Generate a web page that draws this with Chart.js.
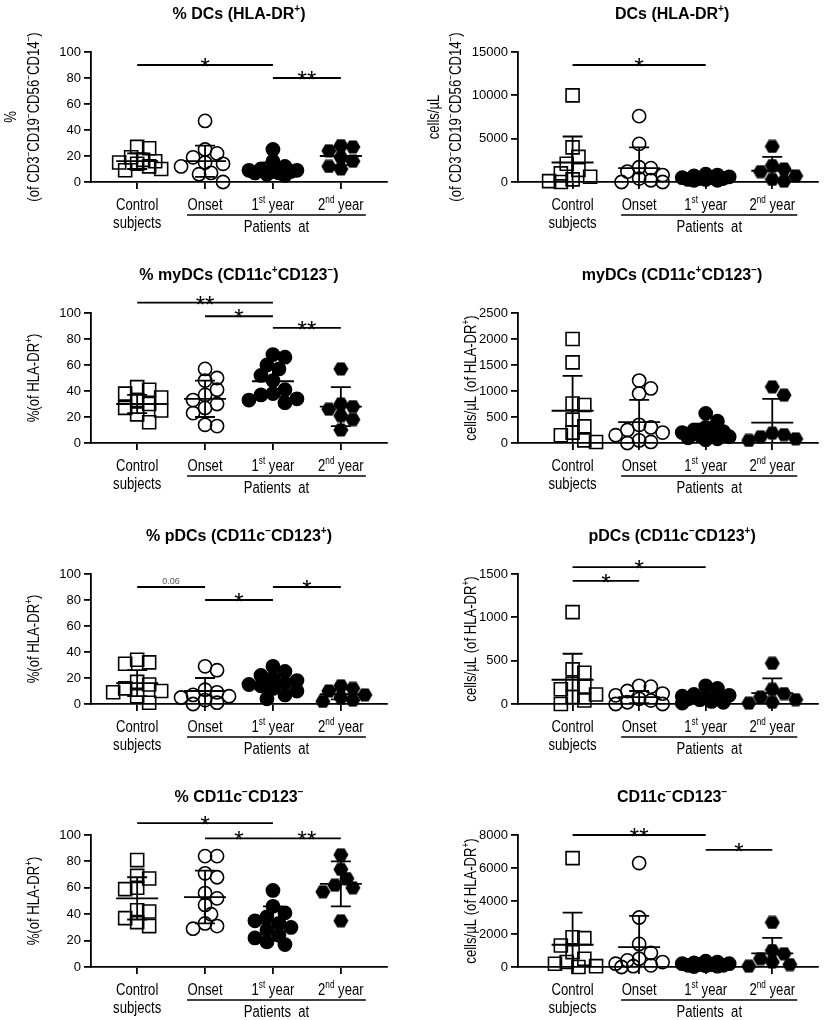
<!DOCTYPE html>
<html lang="en">
<head>
<meta charset="UTF-8">
<title>Dendritic cell subsets</title>
<script src="https://cdn.jsdelivr.net/npm/chart.js@4"></script>
<style>
  body { margin: 0; background: #fff; }
  #wrap { position: relative; width: 829px; height: 1020px; }
  #wrap canvas { position: absolute; }
</style>
</head>
<body>
<div id="wrap"></div>
<script>
// group labels (x axis), ^{..} = superscript, | = line break
const groupLabels = ['Control|subjects', 'Onset', '1^{st} year', '2^{nd} year'];

// % DCs (HLA-DR+)
const dcPctValues = [
  [27, 26, 19, 17, 16, 15, 14, 12, 10, 9],
  [47, 25, 22, 19, 15, 14, 12, 7, 6, 0],
  [25, 16, 12, 10, 9, 9, 8, 8, 7, 7, 6, 5],
  [28, 27, 24, 19, 16, 12, 10]
];
const dcPctMean = [16, 16, 10, 20];
const dcPctSD = [6, 12, 5, 7];
const dcPctSig = [[1, 3, 90, '*'], [3, 4, 80, '**']];

// DCs cells/uL
const dcAbsValues = [
  [10000, 4000, 2900, 2100, 1400, 1000, 600, 300, 100, 0],
  [7600, 4400, 1700, 1600, 1200, 800, 400, 200, 0, 0],
  [900, 800, 700, 600, 500, 500, 400, 400, 300, 300, 200, 200],
  [4100, 1900, 1500, 1200, 700, 300, 100]
];
const dcAbsMean = [2250, 1600, 500, 1300];
const dcAbsSD = [3000, 2400, 250, 1600];
const dcAbsSig = [[1, 3, 13500, '*']];

// % myDCs
const myPctValues = [
  [43, 41, 38, 35, 33, 30, 27, 25, 22, 16],
  [57, 50, 48, 41, 37, 33, 30, 27, 23, 14, 13],
  [68, 66, 60, 57, 52, 48, 41, 38, 37, 34, 33, 31],
  [57, 30, 28, 26, 21, 18, 10]
];
const myPctMean = [30, 34, 47.5, 28];
const myPctSD = [7, 14, 12, 15];
const myPctSig = [[1, 3, 108, '**'], [2, 3, 97.5, '*'], [3, 4, 88.5, '**']];

// myDCs cells/uL
const myAbsValues = [
  [2000, 1550, 760, 730, 450, 320, 200, 150, 50, 20],
  [1200, 1050, 950, 350, 300, 250, 200, 150, 50, 20, 0],
  [570, 420, 300, 250, 220, 200, 180, 150, 120, 100, 80, 60],
  [1080, 920, 190, 160, 120, 80, 50]
];
const myAbsMean = [620, 400, 220, 390];
const myAbsSD = [670, 430, 150, 460];
const myAbsSig = [];

// % pDCs
const pPctValues = [
  [34, 32, 31, 17, 15, 12, 10, 9, 6, 1],
  [29, 26, 11, 9, 7, 6, 5, 3, 1, 0],
  [29, 25, 22, 20, 18, 16, 15, 14, 12, 10, 7, 4],
  [14, 12, 10, 7, 5, 3, 2]
];
const pPctMean = [16, 10, 16, 7.5];
const pPctSD = [10, 10, 6, 4];
const pPctSig = [[1, 2, 90, '0.06'], [2, 3, 80, '*'], [3, 4, 90, '*']];

// pDCs cells/uL
const pAbsValues = [
  [1060, 400, 360, 230, 200, 170, 110, 80, 40, 0],
  [210, 200, 150, 120, 100, 60, 40, 20, 0, 0],
  [210, 180, 110, 100, 90, 80, 70, 60, 50, 30, 20, 10],
  [470, 170, 120, 80, 50, 20, 10]
];
const pAbsMean = [280, 80, 80, 125];
const pAbsSD = [300, 70, 55, 170];
const pAbsSig = [[1, 3, 1580, '*'], [1, 2, 1420, '*']];

// % CD11c-CD123-
const dnPctValues = [
  [81, 69, 67, 60, 59, 43, 42, 37, 34, 31],
  [84, 84, 71, 68, 56, 52, 47, 40, 33, 31, 29],
  [58, 46, 41, 38, 35, 33, 30, 28, 24, 22, 19, 17],
  [85, 74, 67, 62, 60, 57, 35]
];
const dnPctMean = [52, 53, 33, 63];
const dnPctSD = [16, 20, 13, 17];
const dnPctSig = [[1, 3, 109, '*'], [2, 3, 97.5, '*'], [3, 4, 97.5, '**']];

// CD11c-CD123- cells/uL
const dnAbsValues = [
  [6600, 1800, 1750, 1300, 900, 500, 300, 200, 50, 0],
  [6300, 3000, 1400, 850, 500, 400, 300, 200, 100, 50, 0],
  [350, 300, 250, 200, 200, 150, 150, 100, 100, 80, 50, 30],
  [2700, 1000, 800, 500, 300, 150, 50]
];
const dnAbsMean = [1350, 1200, 160, 820];
const dnAbsSD = [1950, 1900, 100, 950];
const dnAbsSig = [[1, 3, 8000, '**'], [3, 4, 7100, '*']];

const SANS = "'Liberation Sans', Arial, sans-serif";
const CONDENSE = 0.82; // no narrow font installed, squeeze the regular one

// page layout (pixels)
const cols = [
  { left: 0, plotLeft: 91, plotRight: 387, xMin: 0.32, xMax: 4.68 },
  { left: 415, plotLeft: 518, plotRight: 825, xMin: 0.18, xMax: 4.69 }
];
const rows = [
  { top: 0, plotTop: 52, plotBottom: 182 },
  { top: 250, plotTop: 313, plotBottom: 443 },
  { top: 510, plotTop: 574, plotBottom: 704 },
  { top: 770, plotTop: 835, plotBottom: 967 }
];
const CW = 414, CH = 250;

const panels = [
  { row: 0, col: 0, title: '% DCs (HLA-DR^{+})', yTitle: ['%', '(of CD3^{−}CD19^{−}CD56^{−}CD14^{−})'], yTitleX: [10, 33],
    max: 100, step: 20, values: dcPctValues, mean: dcPctMean, sd: dcPctSD, sig: dcPctSig },
  { row: 0, col: 1, title: 'DCs (HLA-DR^{+})', yTitle: ['cells/µL', '(of CD3^{−}CD19^{−}CD56^{−}CD14^{−})'], yTitleX: [18, 40],
    max: 15000, step: 5000, values: dcAbsValues, mean: dcAbsMean, sd: dcAbsSD, sig: dcAbsSig },
  { row: 1, col: 0, title: '% myDCs (CD11c^{+}CD123^{−})', yTitle: ['%(of HLA-DR^{+})'], yTitleX: [33],
    max: 100, step: 20, values: myPctValues, mean: myPctMean, sd: myPctSD, sig: myPctSig },
  { row: 1, col: 1, title: 'myDCs (CD11c^{+}CD123^{−})', yTitle: ['cells/µL (of HLA-DR^{+})'], yTitleX: [55],
    max: 2500, step: 500, values: myAbsValues, mean: myAbsMean, sd: myAbsSD, sig: myAbsSig },
  { row: 2, col: 0, title: '% pDCs (CD11c^{−}CD123^{+})', yTitle: ['%(of HLA-DR^{+})'], yTitleX: [33],
    max: 100, step: 20, values: pPctValues, mean: pPctMean, sd: pPctSD, sig: pPctSig },
  { row: 2, col: 1, title: 'pDCs (CD11c^{−}CD123^{+})', yTitle: ['cells/µL (of HLA-DR^{+})'], yTitleX: [55],
    max: 1500, step: 500, values: pAbsValues, mean: pAbsMean, sd: pAbsSD, sig: pAbsSig },
  { row: 3, col: 0, title: '% CD11c^{−}CD123^{−}', yTitle: ['%(of HLA-DR^{+})'], yTitleX: [33],
    max: 100, step: 20, values: dnPctValues, mean: dnPctMean, sd: dnPctSD, sig: dnPctSig },
  { row: 3, col: 1, title: 'CD11c^{−}CD123^{−}', yTitle: ['cells/µL (of HLA-DR^{+})'], yTitleX: [55],
    max: 8000, step: 2000, values: dnAbsValues, mean: dnAbsMean, sd: dnAbsSD, sig: dnAbsSig }
];

// filled hexagon marker for the 2nd year group
const hexagon = document.createElement('canvas');
hexagon.width = 16; hexagon.height = 14;
(function () {
  const c = hexagon.getContext('2d');
  c.fillStyle = '#000';
  c.beginPath();
  c.moveTo(0.5, 7); c.lineTo(4.3, 0.5); c.lineTo(11.7, 0.5);
  c.lineTo(15.5, 7); c.lineTo(11.7, 13.5); c.lineTo(4.3, 13.5);
  c.closePath(); c.fill();
})();

const markers = [
  { pointStyle: 'rect', radius: 9.2, borderColor: '#000', backgroundColor: 'rgba(0,0,0,0)' },
  { pointStyle: 'circle', radius: 6.6, borderColor: '#000', backgroundColor: 'rgba(0,0,0,0)' },
  { pointStyle: 'circle', radius: 6.6, borderColor: '#000', backgroundColor: '#000' },
  { pointStyle: hexagon, radius: 7, borderColor: '#000', backgroundColor: '#000' }
];

// spread overlapping points sideways (simple beeswarm in pixel space)
function spread(vals, max, plotH, pxPerX) {
  const k = plotH / max, step = 6, minD = 11;
  const order = vals.map((v, i) => i).sort((a, b) => vals[b] - vals[a]);
  const placed = [];
  const offs = new Array(vals.length).fill(0);
  const cands = [0, 1, -1, 2, -2, 3, -3, 4, -4].map(c => c * step);
  order.forEach(i => {
    const py = vals[i] * k;
    let best = 0, bestD = -1;
    for (const c of cands) {
      let d = Infinity;
      placed.forEach(p => { d = Math.min(d, Math.hypot(p.x - c, p.y - py)); });
      if (d >= minD) { best = c; break; }
      if (d > bestD) { best = c; bestD = d; }
    }
    placed.push({ x: best, y: py });
    offs[i] = best / pxPerX;
  });
  return offs;
}

function parseRich(s) {
  const parts = [];
  const re = /\^\{([^}]*)\}/g;
  let last = 0, m;
  while ((m = re.exec(s))) {
    if (m.index > last) parts.push({ t: s.slice(last, m.index), sup: false });
    parts.push({ t: m[1], sup: true });
    last = re.lastIndex;
  }
  if (last < s.length) parts.push({ t: s.slice(last), sup: false });
  return parts;
}

// centred text with superscripts, optionally squeezed horizontally
function drawRich(ctx, s, x, y, size, weight, sx) {
  const parts = parseRich(s);
  const supSize = Math.round(size * 0.65);
  const fontFor = p => weight + ' ' + (p.sup ? supSize : size) + 'px ' + SANS;
  let w = 0;
  parts.forEach(p => { ctx.font = fontFor(p); p.w = ctx.measureText(p.t).width; w += p.w; });
  ctx.save();
  ctx.translate(x, y);
  ctx.scale(sx || 1, 1);
  let cx = -w / 2;
  ctx.textAlign = 'left';
  ctx.textBaseline = 'alphabetic';
  parts.forEach(p => {
    ctx.font = fontFor(p);
    ctx.fillText(p.t, cx, p.sup ? -size * 0.42 : 0);
    cx += p.w;
  });
  ctx.restore();
}

function makePanel(p) {
  const col = cols[p.col], row = rows[p.row];
  const canvas = document.createElement('canvas');
  canvas.width = CW; canvas.height = CH;
  canvas.style.left = col.left + 'px';
  canvas.style.top = row.top + 'px';
  document.getElementById('wrap').appendChild(canvas);

  const plotH = row.plotBottom - row.plotTop;
  const pxPerX = (col.plotRight - col.plotLeft) / (col.xMax - col.xMin);

  const datasets = p.values.map((vals, gi) => {
    const offs = spread(vals, p.max, plotH, pxPerX);
    const m = markers[gi];
    return {
      data: vals.map((v, i) => ({ x: gi + 1 + offs[i], y: v })),
      pointStyle: m.pointStyle,
      pointRadius: m.radius,
      pointBorderColor: m.borderColor,
      pointBackgroundColor: m.backgroundColor,
      pointBorderWidth: 1.6,
      clip: false
    };
  });

  const overlay = {
    id: 'overlay',
    afterDatasetsDraw(chart) {
      const ctx = chart.ctx, xs = chart.scales.x, ys = chart.scales.y, area = chart.chartArea;
      ctx.save();
      ctx.strokeStyle = '#000';
      ctx.lineWidth = 1.8;
      // mean and SD bars
      p.mean.forEach((mv, gi) => {
        const xc = xs.getPixelForValue(gi + 1);
        const ym = ys.getPixelForValue(mv);
        const yt = ys.getPixelForValue(mv + p.sd[gi]);
        const yb = ys.getPixelForValue(mv - p.sd[gi]);
        ctx.beginPath();
        ctx.moveTo(xc - 21, ym); ctx.lineTo(xc + 21, ym);
        ctx.moveTo(xc, yt); ctx.lineTo(xc, Math.min(yb, area.bottom));
        ctx.moveTo(xc - 10, yt); ctx.lineTo(xc + 10, yt);
        if (yb < area.bottom) { ctx.moveTo(xc - 10, yb); ctx.lineTo(xc + 10, yb); }
        ctx.stroke();
      });
      ctx.restore();
    },
    afterDraw(chart) {
      const ctx = chart.ctx, xs = chart.scales.x, ys = chart.scales.y, area = chart.chartArea;
      ctx.save();
      ctx.fillStyle = '#000';
      ctx.strokeStyle = '#000';
      // title
      drawRich(ctx, p.title, (area.left + area.right) / 2 + (p.col ? 4 : 0), area.top - 33, 16, 'bold', 1);
      // y axis title (rotated)
      const yc = (area.top + area.bottom) / 2;
      p.yTitle.forEach((t, li) => {
        ctx.save();
        ctx.translate(p.yTitleX[li], yc);
        ctx.rotate(-Math.PI / 2);
        drawRich(ctx, t, 0, 5.5, 16, 'normal', CONDENSE);
        ctx.restore();
      });
      // group labels
      groupLabels.forEach((lab, gi) => {
        const x = xs.getPixelForValue(gi + 1);
        lab.split('|').forEach((line, li) => {
          drawRich(ctx, line, x, area.bottom + 28 + li * 18, 16, 'normal', CONDENSE);
        });
      });
      // "Patients at" underline
      const u1 = xs.getPixelForValue(2) - 18, u2 = xs.getPixelForValue(4) + 25;
      ctx.lineWidth = 1.5;
      ctx.beginPath();
      ctx.moveTo(u1, area.bottom + 33); ctx.lineTo(u2, area.bottom + 33);
      ctx.stroke();
      drawRich(ctx, 'Patients  at', (u1 + u2) / 2, area.bottom + 50, 16, 'normal', CONDENSE);
      // significance bars
      ctx.lineWidth = 1.8;
      p.sig.forEach(([a, b, v, lab]) => {
        const x1 = xs.getPixelForValue(a), x2 = xs.getPixelForValue(b);
        const y = ys.getPixelForValue(v);
        ctx.beginPath();
        ctx.moveTo(x1, y); ctx.lineTo(x2, y);
        ctx.stroke();
        ctx.textAlign = 'center';
        ctx.textBaseline = 'alphabetic';
        if (lab.indexOf('*') === -1) {
          ctx.fillStyle = '#555';
          ctx.font = '9px ' + SANS;
          ctx.fillText(lab, (x1 + x2) / 2, y - 3);
          ctx.fillStyle = '#000';
        } else {
          ctx.font = '24px ' + SANS;
          ctx.fillText(lab, (x1 + x2) / 2, y + 10);
        }
      });
      ctx.restore();
    }
  };

  return new Chart(canvas, {
    type: 'scatter',
    data: { datasets },
    options: {
      responsive: false,
      animation: false,
      devicePixelRatio: 1,
      layout: {
        padding: { left: 0, top: row.plotTop - row.top, right: CW - (col.plotRight - col.left), bottom: 0 }
      },
      plugins: { legend: { display: false }, tooltip: { enabled: false } },
      scales: {
        x: {
          type: 'linear',
          min: col.xMin,
          max: col.xMax,
          afterBuildTicks: ax => { ax.ticks = [1, 2, 3, 4].map(v => ({ value: v })); },
          afterFit: ax => { ax.height = CH - (row.plotBottom - row.top); },
          grid: { drawOnChartArea: false, drawTicks: true, tickLength: 7, color: '#000', lineWidth: 1.8 },
          border: { display: true, color: '#000', width: 1.8 },
          ticks: { callback: () => '', padding: 0 }
        },
        y: {
          min: 0,
          max: p.max,
          afterFit: ax => { ax.width = col.plotLeft - col.left; },
          grid: { drawOnChartArea: false, drawTicks: true, tickLength: 7, color: '#000', lineWidth: 1.8 },
          border: { display: true, color: '#000', width: 1.8 },
          ticks: { stepSize: p.step, color: '#000', padding: 3, font: { family: SANS, size: 13 }, callback: v => String(v) }
        }
      }
    },
    plugins: [overlay]
  });
}

panels.forEach(makePanel);
</script>
</body>
</html>
